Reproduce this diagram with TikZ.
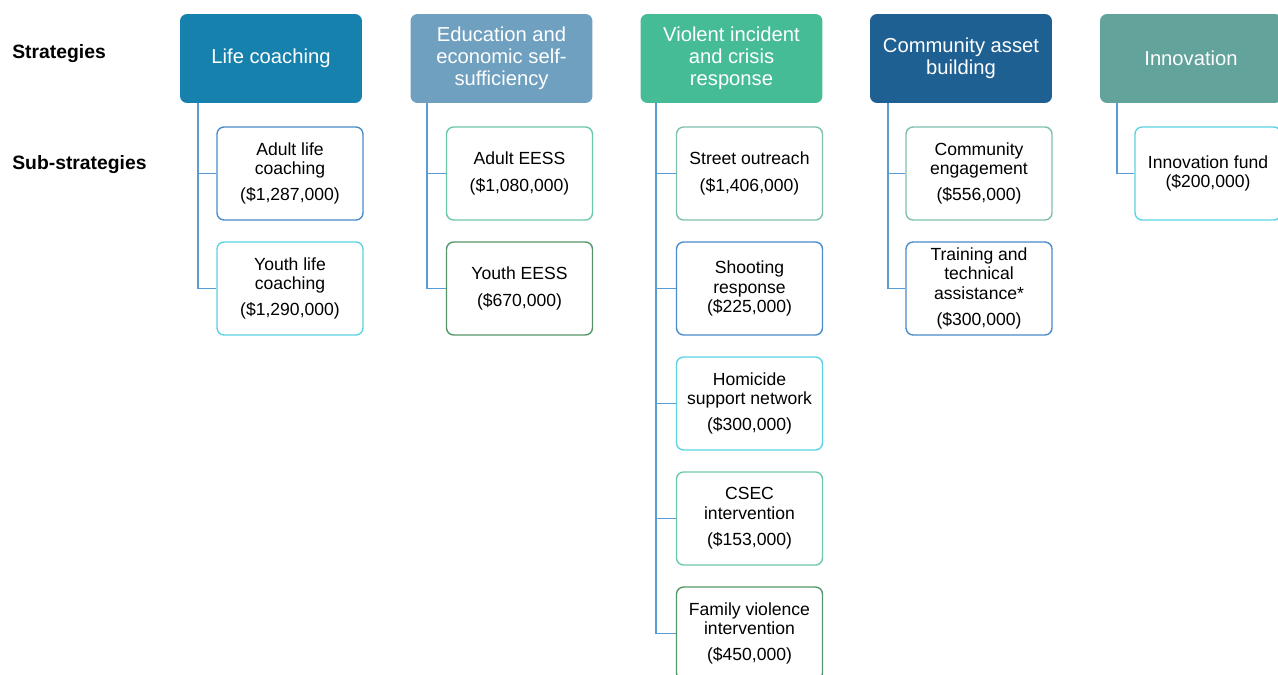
\documentclass[tikz,border=0pt]{standalone}
\usepackage{fontspec}
\setmainfont{Liberation Sans}
\usepackage{tikz}
\definecolor{lifeblue}{RGB}{23,129,174}
\definecolor{edublue}{RGB}{111,160,192}
\definecolor{violgreen}{RGB}{69,187,150}
\definecolor{commblue}{RGB}{31,96,146}
\definecolor{innoteal}{RGB}{98,163,156}
\definecolor{linkblue}{RGB}{91,155,213}
\definecolor{subblue}{RGB}{74,139,201}
\definecolor{subcyan}{RGB}{91,211,224}
\definecolor{submint}{RGB}{108,201,168}
\definecolor{subgreen}{RGB}{84,150,104}
\definecolor{subteal}{RGB}{127,191,176}
\tikzset{strat/.style = {rounded corners=4pt, minimum width=3.64cm, minimum height=1.78cm,
                         align=center, text=white, inner sep=1pt,
                         font=\fontsize{11.5}{12.5}\selectfont},
         substrat/.style = {draw, line width=0.8pt, fill=white, rounded corners=4pt,
                            minimum width=2.92cm, minimum height=1.86cm, align=center,
                            inner sep=1pt, font=\fontsize{10}{11}\selectfont},
         link/.style = {linkblue, line width=1pt},
         rowlabel/.style = {anchor=west, inner sep=0pt, font=\fontsize{11}{13}\selectfont\bfseries}}

\begin{document}
\begin{tikzpicture}[x=0.02cm, y=-0.02cm]
    \useasboundingbox (0, 0) rectangle (1278, 675);

    \node [rowlabel] (strats) at (12, 53.5) {Strategies};
    \node [rowlabel] (substrats) at (12, 164.5) {Sub-strategies};

    \node [strat, fill=lifeblue] (life) at (271, 58.5) {Life coaching};
    \node [strat, fill=edublue] (edu) at (501.5, 58.5) {Education and\\economic self-\\sufficiency};
    \node [strat, fill=violgreen] (viol) at (731.5, 58.5) {Violent incident\\and crisis\\response};
    \node [strat, fill=commblue] (comm) at (961, 58.5) {Community asset\\building};
    \node [strat, fill=innoteal] (inno) at (1191, 58.5) {Innovation};

    \node [substrat, draw=subblue] (adultlife) at (290, 173.5) {Adult life\\coaching\\[4pt](\$1,287,000)};
    \node [substrat, draw=subcyan] (youthlife) at (290, 288.5) {Youth life\\coaching\\[4pt](\$1,290,000)};

    \node [substrat, draw=submint] (adulteess) at (519.5, 173.5) {Adult EESS\\[4pt](\$1,080,000)};
    \node [substrat, draw=subgreen] (youtheess) at (519.5, 288.5) {Youth EESS\\[4pt](\$670,000)};

    \node [substrat, draw=subteal] (street) at (749.5, 173.5) {Street outreach\\[4pt](\$1,406,000)};
    \node [substrat, draw=subblue] (shoot) at (749.5, 288.5) {Shooting\\response\\(\$225,000)};
    \node [substrat, draw=subcyan] (homicide) at (749.5, 403.5) {Homicide\\support network\\[4pt](\$300,000)};
    \node [substrat, draw=submint] (csec) at (749.5, 518.5) {CSEC\\intervention\\[4pt](\$153,000)};
    \node [substrat, draw=subgreen] (family) at (749.5, 633.5) {Family violence\\intervention\\[4pt](\$450,000)};

    \node [substrat, draw=subteal] (engage) at (979, 173.5) {Community\\engagement\\[4pt](\$556,000)};
    \node [substrat, draw=subblue] (training) at (979, 288.5) {Training and\\technical\\assistance*\\[4pt](\$300,000)};

    \node [substrat, draw=subcyan] (fund) at (1208, 173.5) {Innovation fund\\(\$200,000)};

    \foreach \sub in {adultlife, youthlife}
      \draw [link] ([xshift=0.36cm]life.south west) |- (\sub.west);
    \foreach \sub in {adulteess, youtheess}
      \draw [link] ([xshift=0.34cm]edu.south west) |- (\sub.west);
    \foreach \sub in {street, shoot, homicide, csec, family}
      \draw [link] ([xshift=0.32cm]viol.south west) |- (\sub.west);
    \foreach \sub in {engage, training}
      \draw [link] ([xshift=0.36cm]comm.south west) |- (\sub.west);
    \draw [link] ([xshift=0.34cm]inno.south west) |- (fund.west);
\end{tikzpicture}
\end{document}
